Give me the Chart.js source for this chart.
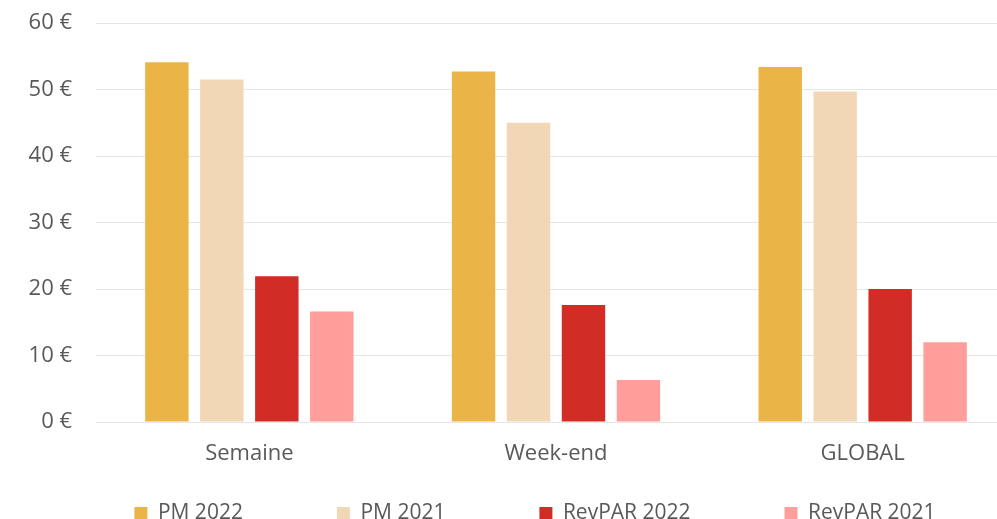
<!DOCTYPE html>
<html>
<head>
<meta charset="utf-8">
<script src="https://cdn.jsdelivr.net/npm/chart.js@4/dist/chart.umd.min.js"></script>
<style>
  html, body { margin: 0; padding: 0; background: #fff; overflow: hidden; width: 997px; height: 519px; }
  #wrap { position: relative; width: 1016px; height: 530px; }
</style>
</head>
<body>
<div id="wrap"><canvas id="myChart"></canvas></div>
<script>
const categories = ["Semaine", "Week-end", "GLOBAL"];
const pm2022 = [54.1, 52.7, 53.4];
const pm2021 = [51.5, 45.0, 49.7];
const revpar2022 = [21.9, 17.6, 20.0];
const revpar2021 = [16.6, 6.3, 12.0];
const yTicks = [0, 10, 20, 30, 40, 50, 60];

const textColor = "#595959";
const gridColor = "#e6e6e6";
const fontFamily = "'Open Sans', 'Noto Sans', sans-serif";

const LEGEND_PAD = 94;

// keep the legend short and move its row where the reference has it
const legendFit = {
  id: "legendFit",
  afterInit(chart) {
    const lg = chart.legend;
    const fit = lg.fit;
    const draw = lg.draw;
    lg.fit = function () {
      fit.call(this);
      this.height = 60;
    };
    lg.draw = function () {
      const t = this.top, l = this.left, r = this.right;
      this.top = t - (LEGEND_PAD - 33);
      this.left = l + 27;
      this.right = r + 27;
      draw.call(this);
      this.top = t; this.left = l; this.right = r;
    };
  }
};

const ctx = document.getElementById("myChart");
new Chart(ctx, {
  type: "bar",
  data: {
    labels: categories,
    datasets: [
      { label: "PM 2022", data: pm2022, backgroundColor: "#EBB447" },
      { label: "PM 2021", data: pm2021, backgroundColor: "#F2D7B7" },
      { label: "RevPAR 2022", data: revpar2022, backgroundColor: "#D12D26" },
      { label: "RevPAR 2021", data: revpar2021, backgroundColor: "#FF9E9A" },
    ],
  },
  options: {
    responsive: true,
    maintainAspectRatio: false,
    animation: false,
    devicePixelRatio: 1,
    layout: { padding: { top: 23, left: 0, right: 0, bottom: 0 } },
    datasets: { bar: { categoryPercentage: 0.717, barPercentage: 0.79 } },
    plugins: {
      tooltip: { enabled: false },
      legend: {
        position: "bottom",
        labels: {
          color: textColor,
          font: { family: fontFamily, size: 21 },
          boxWidth: 13,
          boxHeight: 13,
          padding: LEGEND_PAD,
        },
      },
    },
    scales: {
      x: {
        grid: { display: false },
        border: { display: false },
        ticks: { color: textColor, font: { family: fontFamily, size: 22 }, padding: 11 },
        afterFit(scale) { scale.height = 48; },
      },
      y: {
        min: 0,
        max: 60,
        afterBuildTicks(scale) { scale.ticks = yTicks.map(v => ({ value: v })); },
        grid: { color: gridColor, lineWidth: 1, drawTicks: false },
        border: { display: false },
        ticks: {
          color: textColor,
          font: { family: fontFamily, size: 22 },
          padding: 24,
          callback: v => v + " €",
        },
        afterFit(scale) {
          scale.width = 96;
          scale.paddingTop = 0;
          scale.paddingBottom = 0;
        },
      },
    },
  },
  plugins: [legendFit],
});
</script>
</body>
</html>
